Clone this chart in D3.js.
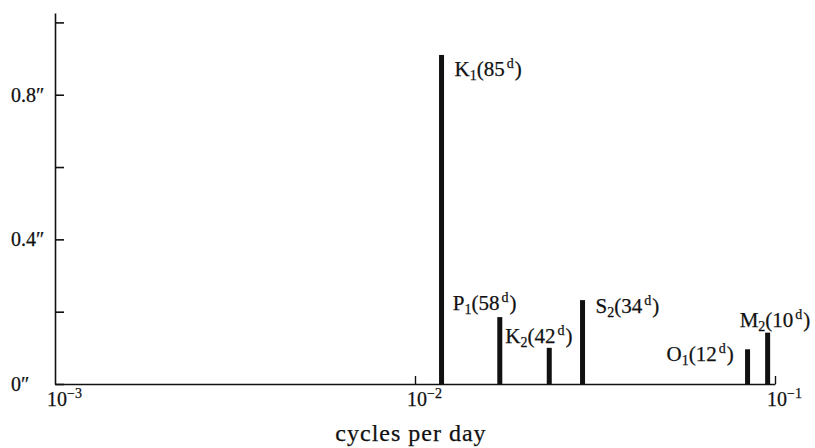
<!DOCTYPE html>
<html>
<head>
<meta charset="utf-8">
<script src="https://cdn.jsdelivr.net/npm/d3@7"></script>
<style>
  body { margin: 0; background: #fff; }
  svg { display: block; }
  text { font-family: "Liberation Serif", "Times New Roman", serif; fill: #111; stroke: #111; stroke-width: 0.25px; }
</style>
</head>
<body>
<svg></svg>
<script>
// tidal terms: letter, subscript, period in days, frequency (cycles/day), amplitude (arcsec)
let names = ["K", "P", "K", "S", "O", "M"]
let subs = ["1", "1", "2", "2", "1", "2"]
let periods = ["85", "58", "42", "34", "12", "10"]
let freqs = [0.01185, 0.0172, 0.0236, 0.0292, 0.0839, 0.0954]
let amps = [0.91, 0.185, 0.10, 0.232, 0.096, 0.142]

let yTicks = [0, 0.2, 0.4, 0.6, 0.8, 1.0]
let yLabels = ["0″", "", "0.4″", "", "0.8″", ""]
let xTicks = [0.001, 0.01, 0.1]
let xExps = ["−3", "−2", "−1"]

// label placement relative to top of each bar [dx, dy]
let labelOffsets = [[13, 21], [-47, -7], [-44, -5], [13, 13], [-81, 12], [-28, -6]]

let width = 815
let height = 448

let svg = d3.select('svg')
   .attr('width', width)
   .attr('height', height)

let x = d3.scaleLog()
   .domain([0.001, 0.1])
   .range([55, 775])

let y = d3.scaleLinear()
   .domain([0, 1.026])
   .range([384, 13])

// y axis
let yAxis = svg.append('g')
   .attr('transform', 'translate(55,0)')
   .call(d3.axisLeft(y).tickValues(yTicks).tickSize(-9).tickSizeOuter(0).tickFormat((d, i) => yLabels[i]))
yAxis.select('.domain').attr('stroke', '#111').attr('stroke-width', 1.6)
yAxis.selectAll('.tick line').attr('stroke', '#111').attr('stroke-width', 1.6)
yAxis.selectAll('.tick text')
   .attr('x', -44)
   .attr('text-anchor', 'start')
   .style('font-size', '20px')
   .style('font-family', '"Liberation Serif", serif')

// x axis
let xAxis = svg.append('g')
   .attr('transform', 'translate(0,384)')
   .call(d3.axisBottom(x).tickValues(xTicks.slice(1)).tickSize(-8).tickSizeOuter(0).tickFormat(''))
xAxis.select('.domain').attr('stroke', '#111').attr('stroke-width', 1.6)
xAxis.selectAll('.tick line').attr('stroke', '#111').attr('stroke-width', 1.4)

let xl = svg.append('g').selectAll('text')
   .data(xTicks)
   .join('text')
   .attr('x', d => x(d) - 8)
   .attr('y', 406)
   .style('font-size', '20px')
xl.append('tspan').text('10')
xl.append('tspan')
   .attr('dy', -8)
   .style('font-size', '14px')
   .text((d, i) => xExps[i])

svg.append('text')
   .attr('x', 411)
   .attr('y', 441)
   .attr('text-anchor', 'middle')
   .style('font-size', '24px')
   .style('letter-spacing', '1px')
   .text('cycles per day')

// bars
svg.append('g').selectAll('rect')
   .data(freqs)
   .join('rect')
   .attr('x', d => x(d) - 2.5)
   .attr('width', 5)
   .attr('y', (d, i) => y(amps[i]))
   .attr('height', (d, i) => y(0) - y(amps[i]))
   .attr('fill', '#111')

// labels
let lab = svg.append('g').selectAll('text')
   .data(freqs)
   .join('text')
   .attr('x', (d, i) => x(d) + labelOffsets[i][0])
   .attr('y', (d, i) => y(amps[i]) + labelOffsets[i][1])
   .style('font-size', '21px')
lab.append('tspan').text((d, i) => names[i])
lab.append('tspan').attr('dy', 4).style('font-size', '14px').text((d, i) => subs[i])
lab.append('tspan').attr('dy', -4).text((d, i) => '(' + periods[i])
lab.append('tspan').attr('dy', -8).attr('dx', 2).style('font-size', '14px').text('d')
lab.append('tspan').attr('dy', 8).attr('dx', 1).text(')')
</script>
</body>
</html>
